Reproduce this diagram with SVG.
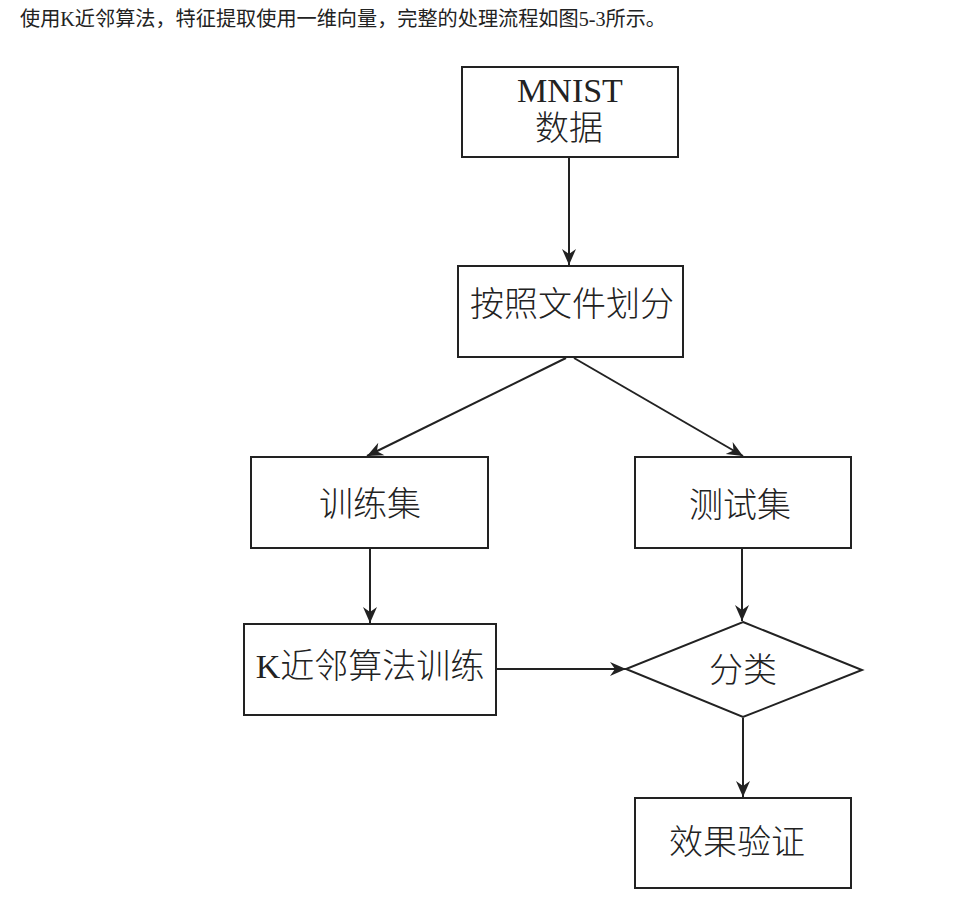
<svg xmlns="http://www.w3.org/2000/svg" width="957" height="909" viewBox="0 0 957 909">
<style>
.box{fill:#fff;stroke:#222;stroke-width:2}
.t{font-family:"Liberation Serif","Noto Sans CJK SC",serif;font-size:34px;font-weight:300;fill:#222;text-anchor:middle}
.cap{font-family:"Liberation Serif","Noto Sans CJK SC",serif;font-size:20px;fill:#222}
.c{stroke:#222;stroke-width:2;fill:none;marker-end:url(#ah)}
</style>
<defs>
<marker id="ah" markerUnits="userSpaceOnUse" markerWidth="18" markerHeight="16" refX="16" refY="8" orient="auto">
<path d="M0,1 L16,8 L0,15 L5,8 z" fill="#222"/>
</marker>
</defs>
<rect width="957" height="909" fill="#fff"/>
<text class="cap" x="20" y="26" textLength="646" lengthAdjust="spacingAndGlyphs">使用K近邻算法，特征提取使用一维向量，完整的处理流程如图5-3所示。</text>
<g id="connectors">
<line class="c" x1="569" y1="158" x2="569" y2="265"/>
<line class="c" x1="566" y1="358" x2="367" y2="456"/>
<line class="c" x1="574" y1="358" x2="743" y2="456"/>
<line class="c" x1="370" y1="549" x2="370" y2="623"/>
<line class="c" x1="742" y1="549" x2="742" y2="621"/>
<line class="c" x1="497" y1="669" x2="626" y2="669"/>
<line class="c" x1="743" y1="718" x2="743" y2="797"/>
</g>
<g id="mnist">
<rect class="box" x="462" y="67" width="216" height="90"/>
<text class="t" x="570" y="102">MNIST</text>
<text class="t" x="569" y="140">数据</text>
</g>
<g id="split">
<rect class="box" x="458" y="266" width="225" height="91"/>
<text class="t" x="572" y="316">按照文件划分</text>
</g>
<g id="train">
<rect class="box" x="251" y="457" width="237" height="91"/>
<text class="t" x="370" y="516">训练集</text>
</g>
<g id="test">
<rect class="box" x="635" y="457" width="216" height="91"/>
<text class="t" x="740" y="517">测试集</text>
</g>
<g id="knn">
<rect class="box" x="244" y="624" width="252" height="91"/>
<text class="t" x="370" y="678">K近邻算法训练</text>
</g>
<g id="classify">
<polygon class="box" points="743,622 862,670 743,717 626,669"/>
<text class="t" x="743" y="682">分类</text>
</g>
<g id="verify">
<rect class="box" x="635" y="798" width="216" height="90"/>
<text class="t" x="737" y="854">效果验证</text>
</g>
</svg>
